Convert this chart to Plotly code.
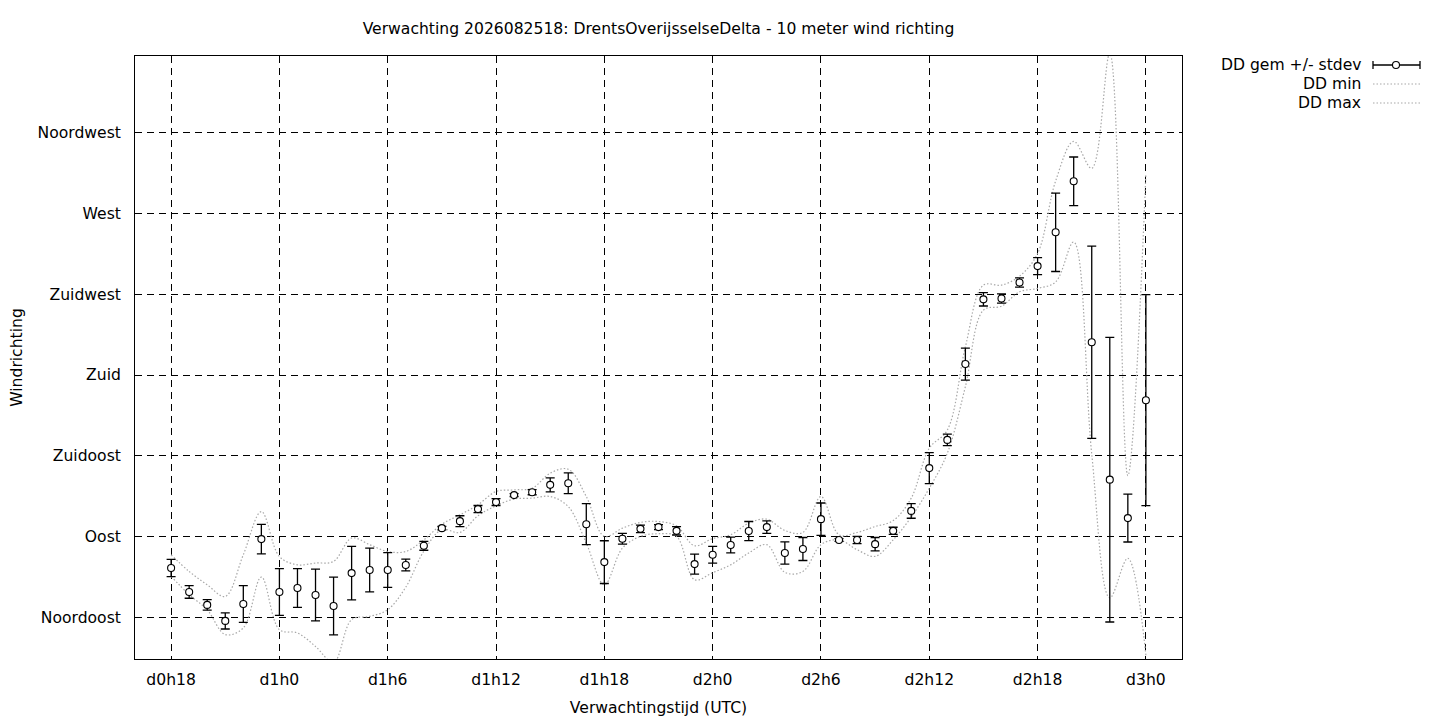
import plotly.graph_objects as go

# Uren vanaf d0h0 (elk uur van d0h18 t/m d3h0)
uren = list(range(18, 73))

dd_gem = [72.6, 59.3, 52.1, 43.2, 52.6, 88.7, 59.3, 61.5, 57.6, 51.5,
          69.8, 71.5, 71.5, 74.3, 85.0, 94.8, 98.7, 105.4, 109.3, 113.2,
          114.8, 118.9, 119.8, 97.0, 75.9, 88.9, 94.4, 95.4, 93.3, 74.8,
          80.0, 85.4, 93.2, 95.4, 81.0, 83.2, 99.8, 88.2, 88.2, 85.9,
          93.3, 104.4, 128.2, 143.9, 186.1, 222.1, 222.6, 231.5, 240.6, 259.4,
          287.8, 198.2, 121.8, 100.4, 166.0]

dd_std = [4.8, 3.5, 2.9, 4.5, 10.2, 8.2, 13.0, 10.8, 14.4, 16.1,
          14.9, 12.2, 9.7, 3.3, 2.5, 1.0, 3.0, 2.0, 1.9, 0.8,
          1.4, 3.9, 5.8, 11.4, 11.9, 3.0, 2.1, 1.4, 2.3, 5.6,
          4.7, 4.4, 5.3, 3.5, 6.2, 6.4, 9.0, 0.8, 2.0, 3.7,
          2.0, 4.1, 8.6, 3.2, 8.9, 3.7, 2.6, 2.6, 4.7, 21.8,
          13.5, 53.5, 79.2, 13.3, 58.7]

dd_min = [68.0, 57.8, 49.4, 35.6, 39.3, 67.6, 38.3, 36.5, 29.0, 20.0,
          43.9, 45.7, 49.4, 62.0, 82.0, 94.0, 92.4, 101.7, 107.2, 111.0,
          111.5, 112.4, 106.8, 86.5, 63.3, 83.7, 90.2, 91.7, 90.2, 66.1,
          70.0, 74.4, 81.0, 85.6, 70.2, 70.7, 85.6, 88.3, 82.8, 79.1,
          88.3, 101.0, 117.0, 136.5, 173.5, 216.1, 218.3, 226.3, 228.2, 231.8,
          254.0, 136.0, 56.0, 78.0, 24.0]

dd_max = [80.0, 70.7, 63.3, 56.8, 80.0, 104.0, 79.0, 74.4, 75.4, 76.3,
          89.3, 85.6, 81.8, 81.8, 88.3, 97.0, 102.2, 107.8, 115.2, 116.1,
          117.0, 125.4, 127.6, 112.4, 90.2, 94.8, 98.0, 98.5, 96.1, 85.0,
          89.0, 91.1, 97.6, 99.8, 93.5, 92.4, 112.4, 91.1, 92.4, 95.7,
          99.0, 111.5, 139.3, 149.4, 195.7, 230.0, 230.0, 235.0, 247.6, 288.0,
          310.0, 295.0, 359.0, 124.0, 292.0]

x_ticks = [18, 24, 30, 36, 42, 48, 54, 60, 66, 72]
x_labels = ['d0h18', 'd1h0', 'd1h6', 'd1h12', 'd1h18', 'd2h0', 'd2h6', 'd2h12', 'd2h18', 'd3h0']
y_ticks = [45, 90, 135, 180, 225, 270, 315]
y_labels = ['Noordoost', 'Oost', 'Zuidoost', 'Zuid', 'Zuidwest', 'West', 'Noordwest']

titel = 'Verwachting 2026082518: DrentsOverijsselseDelta - 10 meter wind richting'
legenda = ['DD gem +/- stdev', 'DD min', 'DD max']

FONT = 'DejaVu Sans'
FS = 15.6
GRIJS = '#a8a8a8'
OFF = 8  # body-marge van de html-pagina

fig = go.Figure()

# min / max als gestippelde gladde lijnen
fig.add_trace(go.Scatter(
    x=uren, y=dd_min, mode='lines', name=legenda[1],
    line=dict(color=GRIJS, width=1.2, dash='1.5px,2px', shape='spline', smoothing=1.0),
    showlegend=False
))
fig.add_trace(go.Scatter(
    x=uren, y=dd_max, mode='lines', name=legenda[2],
    line=dict(color=GRIJS, width=1.2, dash='1.5px,2px', shape='spline', smoothing=1.0),
    showlegend=False
))

# gemiddelde met stdev foutbalken
fig.add_trace(go.Scatter(
    x=uren, y=dd_gem, mode='markers', name=legenda[0],
    marker=dict(symbol='circle', size=7, color='white', line=dict(color='black', width=1.1)),
    error_y=dict(type='data', array=dd_std, visible=True, color='black', thickness=1.3, width=4.5),
    showlegend=False
))

# plotgebied in paginapixels
L, R, T, B = 135, 1182, 56, 659
def px(xp):
    return (xp - L) / (R - L)
def py(yp):
    return (B - yp) / (B - T)

# eigen legenda (gnuplot-stijl: tekst rechts uitgelijnd, voorbeeld rechts)
leg_y = [65, 84, 103]
for tekst, yp in zip(legenda, leg_y):
    fig.add_annotation(text=tekst, xref='paper', yref='paper', x=px(1363), y=py(yp),
                       xanchor='right', yanchor='middle', showarrow=False,
                       font=dict(family=FONT, size=FS, color='black'))

shapes = []
shapes.append(dict(type='line', xref='paper', yref='paper', x0=px(1373), x1=px(1420),
                   y0=py(leg_y[0]), y1=py(leg_y[0]), line=dict(color='black', width=1.3)))
for xc in (1373, 1420):
    shapes.append(dict(type='line', xref='paper', yref='paper', x0=px(xc), x1=px(xc),
                       ysizemode='pixel', yanchor=py(leg_y[0]), y0=-4, y1=4,
                       line=dict(color='black', width=1.3)))
shapes.append(dict(type='circle', xref='paper', yref='paper',
                   xsizemode='pixel', xanchor=px(1396), x0=-3.5, x1=3.5,
                   ysizemode='pixel', yanchor=py(leg_y[0]), y0=-3.5, y1=3.5,
                   fillcolor='white', line=dict(color='black', width=1.1)))
for yp in leg_y[1:]:
    shapes.append(dict(type='line', xref='paper', yref='paper', x0=px(1373), x1=px(1420),
                       y0=py(yp), y1=py(yp), line=dict(color=GRIJS, width=1.2, dash='1.5px,2px')))

fig.update_layout(
    width=1440, height=720,
    margin=dict(l=L - OFF, r=1440 - R + OFF, t=T - OFF, b=720 - B + OFF),
    paper_bgcolor='white', plot_bgcolor='white',
    font=dict(family=FONT, size=FS, color='black'),
    title=dict(text=titel, x=((L + R) / 2 - OFF) / 1440, xanchor='center',
               y=1 - (29 - OFF) / 720, yanchor='middle', font=dict(family=FONT, size=FS)),
    shapes=shapes,
    showlegend=False,
)

fig.update_xaxes(
    range=[16, 74], tickvals=x_ticks, ticktext=x_labels,
    showgrid=True, gridcolor='black', gridwidth=1, griddash='7px,5px',
    showline=True, linecolor='black', linewidth=1, mirror=True,
    ticks='', ticklabelstandoff=6, zeroline=False,
    title=dict(text='Verwachtingstijd (UTC)', standoff=14, font=dict(family=FONT, size=FS)),
    automargin=False,
)
fig.update_yaxes(
    range=[22, 357.5], tickvals=y_ticks, ticktext=y_labels,
    showgrid=True, gridcolor='black', gridwidth=1, griddash='7px,5px',
    showline=True, linecolor='black', linewidth=1, mirror=True,
    ticks='', ticklabelstandoff=10, zeroline=False,
    title=dict(text='Windrichting', standoff=11, font=dict(family=FONT, size=FS)),
    automargin=False,
)

fig.write_html('out.html')
